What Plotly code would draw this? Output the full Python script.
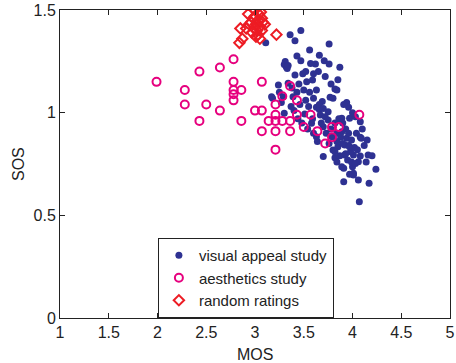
import plotly.graph_objects as go

# visual appeal study (MOS, SOS)
va_mos = [3.11,3.36,3.47,3.41,3.76,3.56,3.43,3.47,3.31,3.32,3.30,3.33,3.34,3.62,3.71,3.76,3.87,3.65,3.60,3.49,
          3.41,3.52,3.59,3.72,3.24,3.34,3.50,3.56,3.63,3.84,3.82,3.77,3.80,3.60,3.69,3.94,3.96,3.63,3.66,3.75,
          3.18,3.17,3.29,3.39,3.30,3.40,3.51,3.67,3.75,3.89,3.97,4.03,4.08,3.58,3.70,3.84,3.89,3.94,3.99,4.04,
          4.08,4.15,3.63,3.80,3.85,3.92,3.70,3.92,4.01,4.08,4.16,3.89,4.00,4.06,4.01,4.24,3.91,4.06,4.17,4.07,
          3.78,3.82,3.86,3.90,3.93,3.96,3.88,3.84,3.90,3.96,3.98,3.93,3.87,3.82,3.95,4.02,4.05,3.99,3.76,3.73,
          3.68,3.72,3.66,3.70,3.55,3.52,3.46,3.44,3.48,3.54,3.60,3.64,3.59,3.38,3.45,3.53,3.43,3.37,3.27,3.25,
          3.57,3.66,3.85,3.78,3.91,4.00,4.10,4.12,3.97,3.84,4.14,4.20,3.79,4.09,3.97,3.82,4.03,3.91,4.01]
va_sos = [1.34,1.38,1.40,1.35,1.335,1.305,1.276,1.253,1.249,1.224,1.235,1.215,1.23,1.237,1.253,1.237,1.221,1.20,1.19,1.19,
          1.184,1.20,1.159,1.176,1.135,1.143,1.11,1.10,1.11,1.11,1.115,1.075,1.07,1.07,1.054,1.049,1.026,1.026,1.016,1.005,
          1.07,1.078,1.078,1.078,0.997,1.01,0.994,0.989,0.964,0.973,0.973,0.98,0.956,0.948,0.932,0.90,0.907,0.875,0.867,0.90,
          0.88,0.867,0.883,0.818,0.834,0.843,0.786,0.794,0.794,0.789,0.794,0.737,0.737,0.761,0.697,0.724,0.664,0.672,0.656,0.566,
          0.92,0.95,0.97,0.95,0.92,0.90,0.88,0.86,0.85,0.84,0.81,0.80,0.79,0.78,0.77,0.83,0.82,0.76,0.85,0.90,
          0.95,0.98,1.04,1.02,1.03,1.06,1.04,0.97,0.95,0.92,0.90,0.86,0.97,1.12,1.14,1.15,1.10,1.03,1.05,1.10,
          1.24,1.28,1.16,1.14,1.04,1.00,0.92,0.84,0.70,0.76,0.76,0.79,0.883,0.875,0.834,0.81,0.753,0.729,0.705]

# aesthetics study
ae_mos = [1.99,2.28,2.43,2.64,2.78,2.78,2.78,2.78,2.78,2.86,3.07,2.28,2.50,2.64,2.43,2.86,3.00,3.07,3.14,3.07,
          3.21,3.21,3.36,3.21,3.28,3.36,3.21,3.43,3.21,3.28,3.36,3.43,3.57,3.50,3.64,3.79,3.86,3.79,3.72,4.07]
ae_sos = [1.15,1.11,1.20,1.22,1.26,1.15,1.11,1.09,1.06,1.11,1.15,1.04,1.04,1.01,0.96,0.96,1.01,1.01,0.96,0.91,
          0.82,0.91,0.91,0.96,0.96,0.96,0.99,0.99,1.04,1.08,1.13,1.06,0.99,0.93,0.91,0.93,0.93,0.88,0.85,0.99]

# random ratings
rr_mos = [2.85,2.87,2.84,2.91,2.93,2.96,2.98,3.00,3.00,3.01,3.02,3.03,3.04,3.05,3.03,3.05,3.07,3.07,3.08,2.99,
          2.97,3.01,3.22,2.94,3.06,3.10]
rr_sos = [1.41,1.36,1.34,1.41,1.48,1.44,1.46,1.50,1.47,1.43,1.40,1.45,1.48,1.42,1.38,1.36,1.46,1.40,1.44,1.41,
          1.39,1.37,1.38,1.43,1.49,1.43]

x_ticks = [1, 1.5, 2, 2.5, 3, 3.5, 4, 4.5, 5]
y_ticks = [0, 0.5, 1, 1.5]

fig = go.Figure()
fig.add_trace(go.Scatter(x=va_mos, y=va_sos, mode="markers", name="visual appeal study",
                         marker=dict(symbol="circle", size=7, color="#2e3192")))
fig.add_trace(go.Scatter(x=ae_mos, y=ae_sos, mode="markers", name="aesthetics study",
                         marker=dict(symbol="circle-open", size=8, color="#e6007e", line=dict(width=2, color="#e6007e"))))
fig.add_trace(go.Scatter(x=rr_mos, y=rr_sos, mode="markers", name="random ratings",
                         marker=dict(symbol="diamond-open", size=8, color="#ed1c24", line=dict(width=2, color="#ed1c24"))))

axis_common = dict(showgrid=False, zeroline=False, showline=True, linecolor="#222", linewidth=1,
                   mirror="ticks", ticks="inside", ticklen=5, tickcolor="#222", automargin=False,
                   tickfont=dict(size=16, color="#222"))
fig.update_xaxes(range=[1, 5], tickvals=x_ticks, ticktext=[f"{v:g}" for v in x_ticks], **axis_common)
fig.update_yaxes(range=[0, 1.5], tickvals=y_ticks, ticktext=[f"{v:g}" for v in y_ticks], **axis_common)

fig.add_annotation(text="MOS", xref="paper", yref="paper", x=0.5, y=0, yshift=-36,
                   xanchor="center", yanchor="middle", showarrow=False, font=dict(size=16, color="#222"))
fig.add_annotation(text="SOS", xref="paper", yref="paper", x=0, y=0.5, xshift=-42,
                   xanchor="center", yanchor="middle", textangle=-90, showarrow=False,
                   font=dict(size=16, color="#222"))

fig.update_layout(
    width=456, height=363,
    margin=dict(l=60, r=6, t=10, b=45),
    paper_bgcolor="white", plot_bgcolor="white",
    font=dict(family="Liberation Sans, Arial, sans-serif", size=16, color="#222"),
    legend=dict(x=0.251, y=0.0, xanchor="left", yanchor="bottom",
                bgcolor="white", bordercolor="#222", borderwidth=1,
                font=dict(size=15), tracegroupgap=0, itemsizing="trace"),
    showlegend=True,
)

fig.write_html("out.html", config={"displayModeBar": False},
               post_script="document.body.style.margin='0';document.body.style.overflow='hidden';")
